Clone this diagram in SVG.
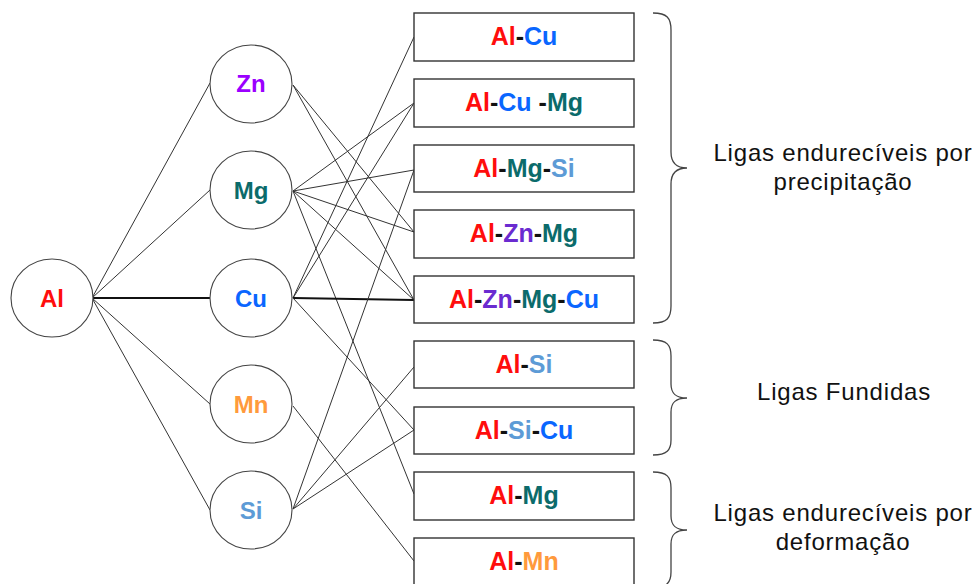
<svg xmlns="http://www.w3.org/2000/svg" width="979" height="584" viewBox="0 0 979 584">
<style>
.c{fill:#fff;stroke:#444;stroke-width:1.1}
.b{fill:#fff;stroke:#333;stroke-width:1.4}
.t{font-family:"Liberation Sans",Arial,sans-serif;font-weight:bold;text-anchor:middle}
.bt{font-size:25px}
.ct{font-size:24px}
.lbl{font-family:"Liberation Sans",Arial,sans-serif;font-size:24px;letter-spacing:0.8px;text-anchor:middle;fill:#111}
.al{fill:#ff0d0d}.cu{fill:#0a66ff}.mg{fill:#0b6b6b}.zn{fill:#6a2bd0}.znc{fill:#9b00ff}.mn{fill:#ff9a3c}.si{fill:#5d9bd6}.k{fill:#111}
.ln{stroke:#333;stroke-width:1;fill:none}
.th{stroke:#111;stroke-width:1.8;fill:none}
.br{stroke:#444;stroke-width:1.3;fill:none}
</style>
<g id="connectors">
<line class="ln" x1="92" y1="298" x2="210" y2="83"/>
<line class="ln" x1="92" y1="298" x2="210" y2="190"/>
<line class="th" x1="92" y1="298" x2="210" y2="298"/>
<line class="ln" x1="92" y1="298" x2="210" y2="404"/>
<line class="ln" x1="92" y1="298" x2="210" y2="510"/>
<line class="ln" x1="293" y1="85" x2="414" y2="232"/>
<line class="ln" x1="293" y1="85" x2="414" y2="300"/>
<line class="ln" x1="293" y1="191" x2="414" y2="103"/>
<line class="ln" x1="293" y1="191" x2="414" y2="170"/>
<line class="ln" x1="293" y1="191" x2="414" y2="232"/>
<line class="ln" x1="293" y1="191" x2="414" y2="300"/>
<line class="ln" x1="293" y1="191" x2="414" y2="494"/>
<line class="ln" x1="293" y1="298" x2="414" y2="37"/>
<line class="ln" x1="293" y1="298" x2="414" y2="103"/>
<line class="th" x1="293" y1="298" x2="414" y2="300"/>
<line class="ln" x1="293" y1="298" x2="414" y2="430"/>
<line class="ln" x1="293" y1="406" x2="414" y2="561"/>
<line class="ln" x1="293" y1="509" x2="414" y2="170"/>
<line class="ln" x1="293" y1="509" x2="414" y2="367"/>
<line class="ln" x1="293" y1="509" x2="414" y2="430"/>
</g>
<g id="n-al"><ellipse class="c" cx="52" cy="298" rx="41" ry="39"/><text class="t ct al" x="52" y="307">Al</text></g>
<g id="n-zn"><ellipse class="c" cx="251" cy="84" rx="41" ry="39"/><text class="t ct znc" x="251" y="92">Zn</text></g>
<g id="n-mg"><ellipse class="c" cx="251" cy="190" rx="41" ry="39"/><text class="t ct mg" x="251" y="199">Mg</text></g>
<g id="n-cu"><ellipse class="c" cx="251" cy="298" rx="41" ry="39"/><text class="t ct cu" x="251" y="307">Cu</text></g>
<g id="n-mn"><ellipse class="c" cx="251" cy="404" rx="41" ry="39"/><text class="t ct mn" x="251" y="413">Mn</text></g>
<g id="n-si"><ellipse class="c" cx="251" cy="510" rx="41" ry="39"/><text class="t ct si" x="251" y="519">Si</text></g>
<g id="b-alcu"><rect class="b" x="414" y="13" width="220" height="48"/><text class="t bt" x="524" y="45"><tspan class="al">Al</tspan><tspan class="k">-</tspan><tspan class="cu">Cu</tspan></text></g>
<g id="b-alcumg"><rect class="b" x="414" y="79" width="220" height="48"/><text class="t bt" x="524" y="111" xml:space="preserve"><tspan class="al">Al</tspan><tspan class="k">-</tspan><tspan class="cu">Cu</tspan><tspan class="k"> -</tspan><tspan class="mg">Mg</tspan></text></g>
<g id="b-almgsi"><rect class="b" x="414" y="145" width="220" height="47"/><text class="t bt" x="524" y="177"><tspan class="al">Al</tspan><tspan class="k">-</tspan><tspan class="mg">Mg</tspan><tspan class="k">-</tspan><tspan class="si">Si</tspan></text></g>
<g id="b-alznmg"><rect class="b" x="414" y="210" width="220" height="48"/><text class="t bt" x="524" y="242"><tspan class="al">Al</tspan><tspan class="k">-</tspan><tspan class="zn">Zn</tspan><tspan class="k">-</tspan><tspan class="mg">Mg</tspan></text></g>
<g id="b-alznmgcu"><rect class="b" x="414" y="276" width="220" height="47"/><text class="t bt" x="524" y="308"><tspan class="al">Al</tspan><tspan class="k">-</tspan><tspan class="zn">Zn</tspan><tspan class="k">-</tspan><tspan class="mg">Mg</tspan><tspan class="k">-</tspan><tspan class="cu">Cu</tspan></text></g>
<g id="b-alsi"><rect class="b" x="414" y="341" width="220" height="47"/><text class="t bt" x="524" y="373"><tspan class="al">Al</tspan><tspan class="k">-</tspan><tspan class="si">Si</tspan></text></g>
<g id="b-alsicu"><rect class="b" x="414" y="407" width="220" height="47"/><text class="t bt" x="524" y="439"><tspan class="al">Al</tspan><tspan class="k">-</tspan><tspan class="si">Si</tspan><tspan class="k">-</tspan><tspan class="cu">Cu</tspan></text></g>
<g id="b-almg"><rect class="b" x="414" y="472" width="220" height="48"/><text class="t bt" x="524" y="504"><tspan class="al">Al</tspan><tspan class="k">-</tspan><tspan class="mg">Mg</tspan></text></g>
<g id="b-almn"><rect class="b" x="414" y="538" width="220" height="48"/><text class="t bt" x="524" y="570"><tspan class="al">Al</tspan><tspan class="k">-</tspan><tspan class="mn">Mn</tspan></text></g>
<g id="brace-precip">
<path class="br" d="M653,13 C667,13 671,18 671,30 L671,152 C671,162 675,168 687,168 C675,168 671,174 671,184 L671,306 C671,318 667,323 653,323"/>
<text class="lbl" x="843" y="161">Ligas endurecíveis por</text>
<text class="lbl" x="843" y="190">precipitação</text>
</g>
<g id="brace-fund">
<path class="br" d="M653,340 C667,340 671,345 671,356 L671,384 C671,393 675,398 687,398 C675,398 671,403 671,412 L671,440 C671,450 667,455 653,455"/>
<text class="lbl" x="844" y="400">Ligas Fundidas</text>
</g>
<g id="brace-deform">
<path class="br" d="M653,472 C667,472 671,477 671,488 L671,516 C671,525 675,530 687,530 C675,530 671,535 671,544 L671,572 C671,582 667,588 653,588"/>
<text class="lbl" x="843" y="521">Ligas endurecíveis por</text>
<text class="lbl" x="843" y="550">deformação</text>
</g>
</svg>
